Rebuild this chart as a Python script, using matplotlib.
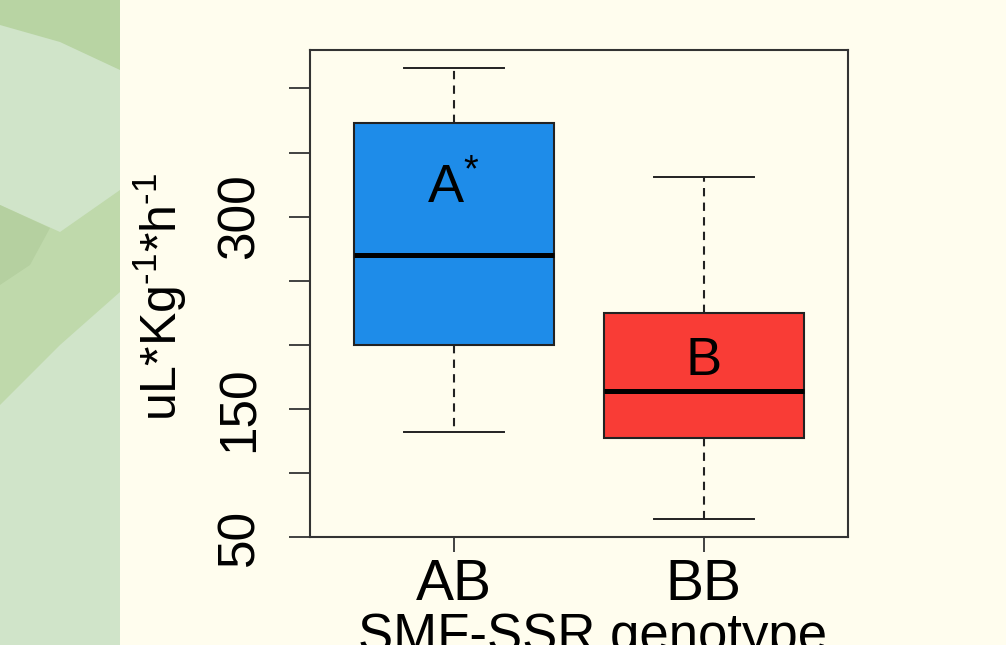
import matplotlib.pyplot as plt
from matplotlib.patches import Rectangle, Polygon

plt.rcParams['font.family'] = ['Liberation Sans', 'DejaVu Sans']
plt.rcParams['mathtext.default'] = 'regular'

# box statistics
genotypes = ['AB', 'BB']
whis_lo = [132, 64]
q1 = [200, 127]
med = [270, 164]
q3 = [373, 225]
whis_hi = [416, 331]
box_colors = ['#1e8ce9', '#f93c36']
letters = ['A$^{*}$', 'B']
letter_y = [322, 187]

yticks = [50, 100, 150, 200, 250, 300, 350, 400]
ytick_labels = ['50', '', '150', '', '', '300', '', '']

W, H = 1006, 645
fig = plt.figure(figsize=(W / 100, H / 100), dpi=100)
fig.patch.set_facecolor('#fffdee')


def px(x, y):
    return (x / W, 1 - y / H)


# green decorative strip on the left
fig.patches.append(Rectangle(px(0, 645), 120 / W, 1, transform=fig.transFigure,
                             facecolor='#d0e4c9', edgecolor='none'))
top_shape = [px(0, 0), px(120, 0), px(120, 70), px(60, 42), px(0, 25)]
fig.patches.append(Polygon(top_shape, closed=True, transform=fig.transFigure,
                           facecolor='#b8d4a3', edgecolor='none'))
mid_shape = [px(0, 205), px(60, 232), px(120, 190), px(120, 292), px(60, 345), px(0, 405)]
fig.patches.append(Polygon(mid_shape, closed=True, transform=fig.transFigure,
                           facecolor='#bfd9ab', edgecolor='none'))
dark_shape = [px(0, 205), px(50, 228), px(30, 265), px(0, 285)]
fig.patches.append(Polygon(dark_shape, closed=True, transform=fig.transFigure,
                           facecolor='#b5d0a0', edgecolor='none'))

ax = fig.add_axes([310 / W, (645 - 537) / H, 538 / W, 487 / H])
ax.set_facecolor('#fffdee')

stats = []
for i in range(len(genotypes)):
    stats.append({'whislo': whis_lo[i], 'q1': q1[i], 'med': med[i],
                  'q3': q3[i], 'whishi': whis_hi[i], 'fliers': []})

bp = ax.bxp(stats, positions=[1, 2], widths=0.8, patch_artist=True,
            showfliers=False,
            boxprops=dict(edgecolor='#222222', linewidth=1.5),
            medianprops=dict(color='black', linewidth=3.6),
            whiskerprops=dict(color='#222222', linewidth=1.5, linestyle=(0, (4, 3))),
            capprops=dict(color='#222222', linewidth=1.4),
            capwidths=0.4)
for patch, c in zip(bp['boxes'], box_colors):
    patch.set_facecolor(c)

for i in range(len(genotypes)):
    ax.text(i + 1, letter_y[i], letters[i], ha='center', va='center', fontsize=39)

ax.set_xlim(0.425, 2.577)
ax.set_ylim(50, 430)
ax.set_xticks([1, 2])
ax.set_xticklabels(genotypes, fontsize=41)
ax.set_yticks(yticks)
ax.set_yticklabels(ytick_labels, fontsize=37)
for lab in ax.get_yticklabels():
    lab.set_rotation(90)
    lab.set_va('center')
    lab.set_ha('right')

ax.tick_params(axis='y', length=15, width=1.3, pad=18, color='#333333')
ax.tick_params(axis='x', length=11, width=1.3, pad=4, color='#333333')
for s in ax.spines.values():
    s.set_linewidth(1.5)
    s.set_color('#333333')

fig.text(160 / W, 1 - 297 / H, 'uL*Kg$^{\u20101}$*h$^{\u20101}$', rotation=90,
         ha='center', va='center', fontsize=36)
fig.text(593 / W, 1 - 612 / H, 'SMF-SSR genotype', ha='center', va='top', fontsize=38)

fig.savefig('out.png', dpi=100, facecolor=fig.get_facecolor())
